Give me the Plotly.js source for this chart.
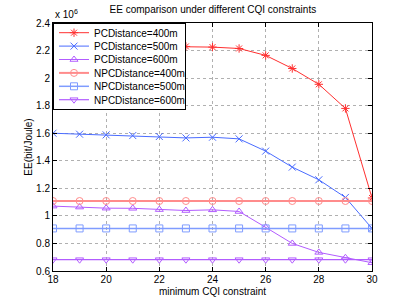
<!DOCTYPE html>
<html>
<head>
<meta charset="utf-8">
<script src="https://cdn.plot.ly/plotly-3.0.1.min.js"></script>
<style>html,body{margin:0;padding:0;background:#fff;}#chart{width:411px;height:305px;}</style>
</head>
<body>
<div id="chart"></div>
<script>
const cqi = [18, 19, 20, 21, 22, 23, 24, 25, 26, 27, 28, 29, 30];
const pc400 = [2.24, 2.238, 2.236, 2.234, 2.232, 2.23, 2.225, 2.215, 2.165, 2.07, 1.955, 1.78, 1.13];
const pc500 = [1.6, 1.593, 1.588, 1.583, 1.576, 1.566, 1.571, 1.559, 1.47, 1.354, 1.262, 1.134, 0.909];
const pc600 = [1.071, 1.064, 1.056, 1.055, 1.046, 1.039, 1.044, 1.032, 0.917, 0.80, 0.735, 0.696, 0.66];
const npc400 = [1.108, 1.108, 1.108, 1.108, 1.108, 1.108, 1.108, 1.108, 1.108, 1.108, 1.108, 1.108, 1.108];
const npc500 = [0.909, 0.909, 0.909, 0.909, 0.909, 0.909, 0.909, 0.909, 0.909, 0.909, 0.909, 0.909, 0.909];
const npc600 = [0.682, 0.682, 0.682, 0.682, 0.682, 0.682, 0.682, 0.682, 0.682, 0.682, 0.682, 0.682, 0.682];
const names = ['PCDistance=400m', 'PCDistance=500m', 'PCDistance=600m', 'NPCDistance=400m', 'NPCDistance=500m', 'NPCDistance=600m'];
const yTicks = [0.6, 0.8, 1, 1.2, 1.4, 1.6, 1.8, 2, 2.2, 2.4];
const xTicks = [18, 20, 22, 24, 26, 28, 30];

const series = [pc400, pc500, pc600, npc400, npc500, npc600];
const colors = ['#ff3030', '#4a6cff', '#b25cff', '#ff8c8c', '#7f9cff', '#b25cff'];
const symbols = ['asterisk-open', 'x-thin-open', 'triangle-up-open', 'circle-open', 'square-open', 'triangle-down-open'];
const widths = [1, 1, 1, 2, 1.5, 1.2];

const traces = series.map((s, i) => ({
  x: cqi, y: s, name: names[i], type: 'scatter', mode: 'lines+markers',
  line: {color: colors[i], width: widths[i]},
  marker: {symbol: symbols[i], size: 7, color: colors[i], line: {color: colors[i], width: 1}}
}));

const fam = 'Liberation Sans, Arial, sans-serif';
const font = {family: fam, size: 10, color: '#000'};
const axisCommon = {
  showline: true, linecolor: '#000', linewidth: 1, mirror: 'ticks',
  ticks: 'inside', ticklen: 4, tickcolor: '#000',
  showgrid: true, gridcolor: '#b0b0b0', griddash: 'dot', gridwidth: 1,
  zeroline: false, tickfont: font
};

const layout = {
  width: 411, height: 305,
  margin: {l: 53, r: 39, t: 23, b: 34},
  paper_bgcolor: '#fff', plot_bgcolor: '#fff',
  font: font,
  title: {text: 'EE comparison under different CQI constraints', font: font, x: 0.518, xanchor: 'center', y: 0.98, yanchor: 'top'},
  xaxis: Object.assign({}, axisCommon, {
    range: [18, 30], tickvals: xTicks, ticktext: xTicks.map(String), ticklabelstandoff: -1,
    title: {text: 'minimum CQI constraint', font: font, standoff: 3}
  }),
  yaxis: Object.assign({}, axisCommon, {
    range: [0.6, 2.4], tickvals: yTicks, ticktext: yTicks.map(v => String(v)),
    title: {text: 'EE(bit/Joule)', font: font, standoff: 1}
  }),
  legend: {
    x: 0, y: 1, xanchor: 'left', yanchor: 'top',
    bgcolor: '#fff', bordercolor: '#000', borderwidth: 1,
    font: font, tracegroupgap: 0, itemwidth: 30
  },
  annotations: [{
    xref: 'paper', yref: 'paper', x: 0, y: 1, xanchor: 'left', yanchor: 'bottom',
    xshift: 0, yshift: 1, showarrow: false,
    text: 'x 10<sup>6</sup>', font: font
  }],
  showlegend: true
};

Plotly.newPlot('chart', traces, layout, {displayModeBar: false, staticPlot: true}).then(gd => {
  // tighten legend row spacing to match the compact reference legend
  const leg = gd.querySelector('g.legend');
  if (!leg) return;
  const items = leg.querySelectorAll('g.traces');
  const rowGap = 13.4, first = 9.7;
  items.forEach((g, i) => {
    const t = g.getAttribute('transform') || '';
    const m = t.match(/translate\(\s*([-\d.]+)[ ,]+([-\d.]+)\s*\)/);
    const x = m ? parseFloat(m[1]) : 0;
    g.setAttribute('transform', 'translate(' + x + ',' + (first + i * rowGap) + ')');
  });
  const bg = leg.querySelector('rect.bg');
  if (bg) {
    bg.setAttribute('height', (first * 2 + (items.length - 1) * rowGap).toFixed(1));
    bg.setAttribute('width', '132');
  }
});
</script>
</body>
</html>
